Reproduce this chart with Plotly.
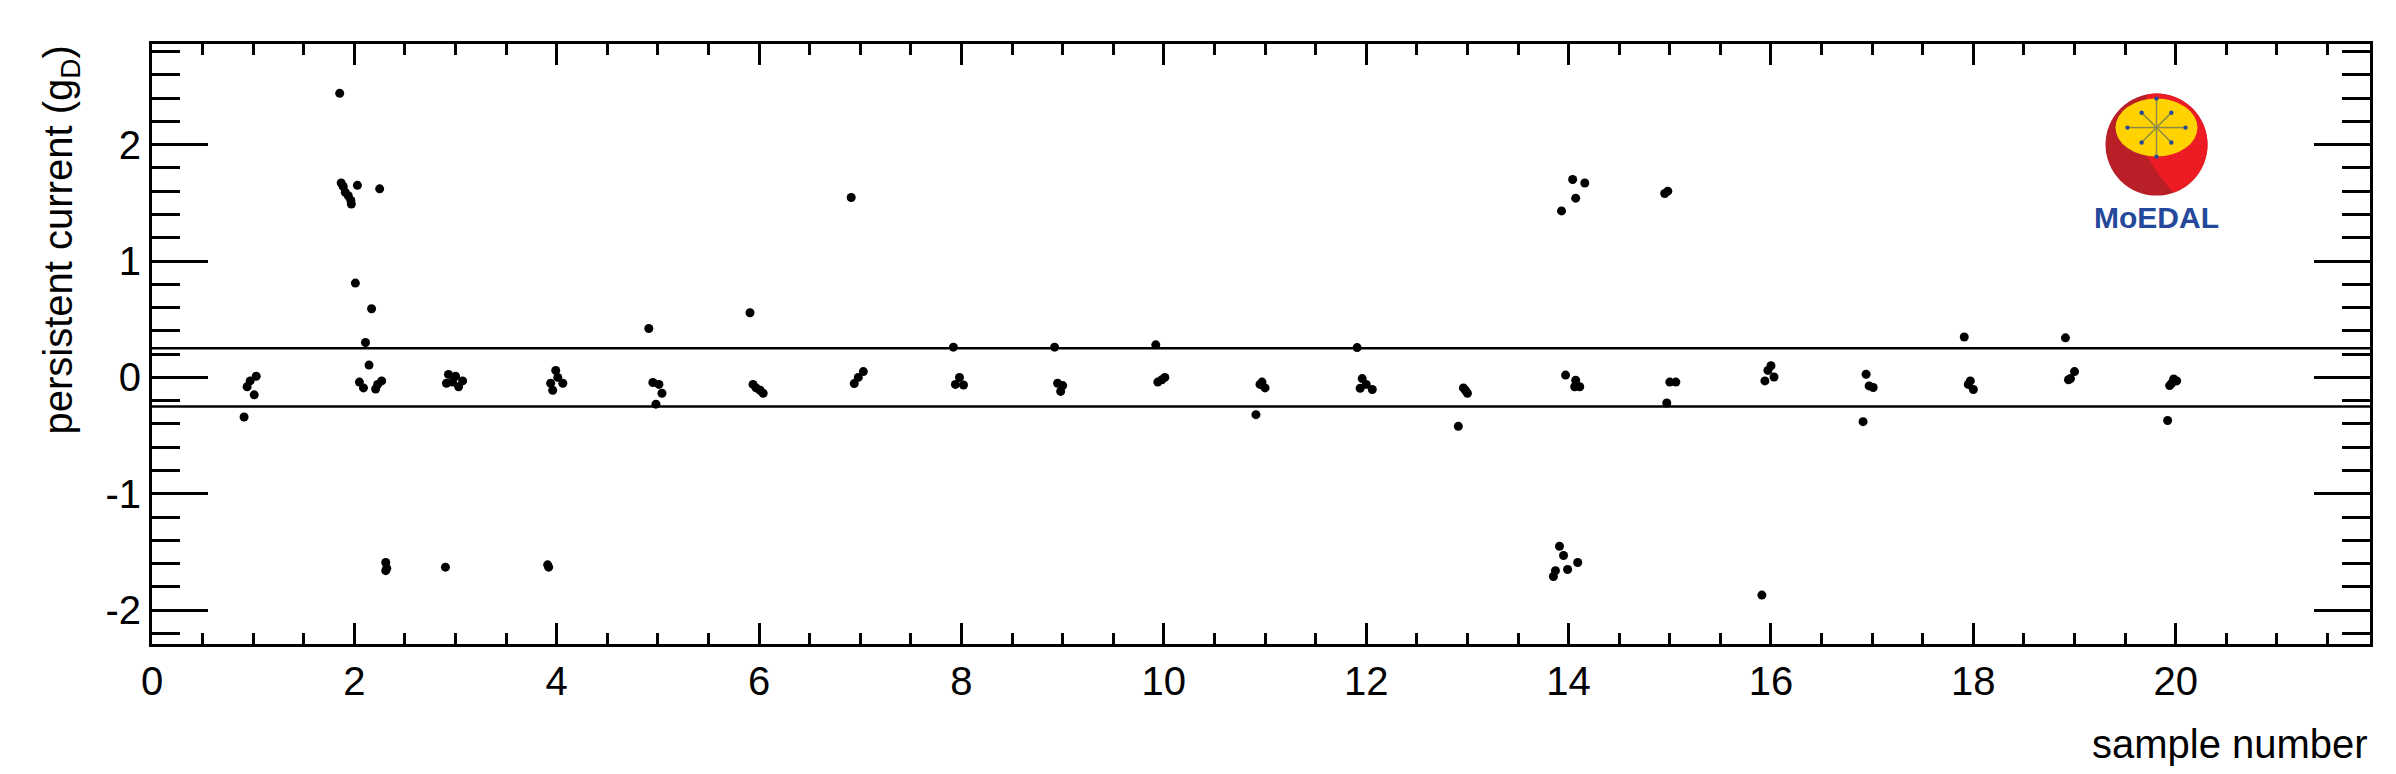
import numpy as np
import plotly.graph_objects as go

# ---------------- data ----------------
sample_x = [
    1.03, 0.97, 0.94, 1.01, 0.91,
    1.855, 1.87, 1.89, 1.91, 1.94, 1.965, 1.97, 2.03, 2.25, 2.01, 2.17, 2.11,
    2.145, 2.05, 2.09, 2.21, 2.23, 2.27, 2.31, 2.31, 2.32,
    2.93, 3.00, 3.07, 2.91, 3.03, 2.97, 2.90,
    3.99, 4.01, 4.06, 3.94, 3.96, 3.91, 3.92,
    4.91, 4.95, 5.01, 5.04, 4.98,
    5.91, 5.94, 5.97, 6.01, 6.04,
    6.91, 6.94, 6.98, 7.03,
    7.92, 7.98, 7.94, 8.02,
    8.92, 8.95, 9.00, 8.98,
    9.92, 9.94, 9.98, 10.01,
    10.97, 10.95, 11.00, 10.91,
    11.91, 11.96, 11.94, 12.00, 12.06,
    12.96, 12.98, 13.00, 12.91,
    13.97, 14.07, 14.06, 14.11, 14.04, 14.16, 14.07, 13.93,
    13.91, 13.95, 13.87, 13.85, 13.99, 14.09,
    14.95, 14.98, 15.00, 15.06, 14.97,
    16.00, 15.97, 16.03, 15.94, 15.91,
    16.94, 16.97, 17.01, 16.91,
    17.91, 17.97, 17.95, 18.00,
    18.91, 18.94, 18.96, 19.00,
    19.98, 20.01, 19.94, 19.96, 19.92,
]
current_y = [
    0.01, -0.03, -0.08, -0.15, -0.34,
    2.44, 1.67, 1.64, 1.59, 1.56, 1.52, 1.49, 1.65, 1.62, 0.81, 0.59, 0.30,
    0.106, -0.04, -0.09, -0.10, -0.06, -0.03, -1.59, -1.66, -1.64,
    0.026, 0.01, -0.03, -0.05, -0.08, -0.04, -1.63,
    0.06, 0.00, -0.05, -0.05, -0.11, -1.61, -1.63,
    0.42, -0.044, -0.06, -0.136, -0.23,
    0.555, -0.06, -0.09, -0.11, -0.136,
    1.545, -0.053, 0.00, 0.05,
    0.26, 0.00, -0.06, -0.065,
    0.26, -0.05, -0.07, -0.12,
    0.28, -0.04, -0.02, 0.00,
    -0.04, -0.06, -0.09, -0.32,
    0.256, -0.01, -0.093, -0.06, -0.104,
    -0.09, -0.11, -0.136, -0.42,
    0.02, -0.024, -0.08, -0.08, 1.70, 1.67, 1.54, 1.43,
    -1.45, -1.53, -1.66, -1.71, -1.65, -1.59,
    1.58, 1.60, -0.04, -0.04, -0.22,
    0.10, 0.06, 0.004, -0.03, -1.87,
    0.027, -0.073, -0.087, -0.38,
    0.347, -0.03, -0.06, -0.104,
    0.34, -0.02, -0.01, 0.05,
    -0.014, -0.03, -0.07, -0.05, -0.37,
]
threshold_levels = [0.25, -0.25]
x_range = [0.0, 21.92]
y_range = [-2.29, 2.864]
x_tick_vals = [0, 2, 4, 6, 8, 10, 12, 14, 16, 18, 20]
x_tick_text = ["0", "2", "4", "6", "8", "10", "12", "14", "16", "18", "20"]
y_tick_vals = [-2, -1, 0, 1, 2]
y_tick_text = ["-2", "-1", "0", "1", "2"]

# ---------------- figure ----------------
# page body has an 8px margin, so the figure is 16px smaller than the window
W, H = 2380, 758
L, R, T, B = 144, 18, 36, 122
FONT = "Liberation Sans, Arial, Helvetica, sans-serif"

fig = go.Figure()
fig.add_trace(go.Scatter(
    x=sample_x, y=current_y, mode="markers",
    marker=dict(color="black", size=9, line=dict(width=0)),
    showlegend=False, hoverinfo="x+y",
))

shapes = []
for lv in threshold_levels:
    shapes.append(dict(type="line", xref="paper", x0=0, x1=1, yref="y", y0=lv, y1=lv,
                       line=dict(color="black", width=2.5), layer="above"))

# ---------- MoEDAL logo (decoration) ----------
lx, ly = 19.81, 2.0

def circ_path(cx, cy, rx, ry, a0, a1, n=60):
    t = np.linspace(a0, a1, n)
    return [(cx + rx * np.cos(tt), cy + ry * np.sin(tt)) for tt in t]

def to_path(pts, close=True):
    s = "M " + " L ".join(f"{px:.2f},{py:.2f}" for px, py in pts)
    return s + (" Z" if close else "")

pix = dict(xref="x", yref="y", xsizemode="pixel", ysizemode="pixel",
           xanchor=lx, yanchor=ly, layer="above")
# dark red full disc
shapes.append(dict(type="circle", x0=-51, x1=51, y0=-51, y1=51,
                   fillcolor="#b81f26", line=dict(width=0), **pix))
# bright red right part
arc = circ_path(0, 0, 51, 51, np.deg2rad(100), np.deg2rad(-70))
inner = [(14, -45), (2, -30), (-8, -14), (-20, 0)]
shapes.append(dict(type="path", path=to_path(arc + inner),
                   fillcolor="#ed1c24", line=dict(width=0), **pix))
# yellow top ellipse
shapes.append(dict(type="circle", x0=-41, x1=41, y0=-12, y1=46,
                   fillcolor="#ffd200", line=dict(width=0), **pix))
# arrows (star)
acx, acy = 0, 17
for ang in range(0, 360, 45):
    rr = 27 if ang % 90 == 0 else 19
    a = np.deg2rad(ang)
    ex, ey = acx + rr * np.cos(a), acy + rr * np.sin(a)
    shapes.append(dict(type="line", x0=acx, y0=acy, x1=ex, y1=ey,
                       line=dict(color="#8c8a4a", width=1.5), **pix))
    hx, hy = acx + (rr + 2) * np.cos(a), acy + (rr + 2) * np.sin(a)
    shapes.append(dict(type="circle", x0=hx - 2.2, x1=hx + 2.2, y0=hy - 2.2, y1=hy + 2.2,
                       fillcolor="#24489a", line=dict(width=0), **pix))

annotations = [
    dict(text="MoEDAL", xref="x", yref="y", x=lx, y=1.37, showarrow=False,
         font=dict(family=FONT, size=30, color="#24489a", weight="bold"),
         xanchor="center", yanchor="middle"),
    dict(text="persistent current (g<sub>D</sub>)", xref="paper", yref="paper",
         x=(52 - L) / (W - L - R), y=1.0, xanchor="center", yanchor="top",
         textangle=-90, showarrow=False, font=dict(family=FONT, size=40, color="black")),
    dict(text="sample number", xref="paper", yref="paper",
         x=1.0, y=-(736 - (H - B)) / (H - T - B), xanchor="right", yanchor="middle",
         showarrow=False, font=dict(family=FONT, size=40, color="black")),
]

axis_common = dict(showgrid=False, zeroline=False, showline=True, linecolor="black",
                   linewidth=3, mirror="allticks", ticks="inside", tickcolor="black",
                   tickwidth=2.5, tickfont=dict(family=FONT, size=40, color="black"))

fig.update_layout(
    width=W, height=H,
    margin=dict(l=L, r=R, t=T, b=B, pad=0),
    paper_bgcolor="white", plot_bgcolor="white",
    xaxis=dict(range=x_range, tickvals=x_tick_vals, ticktext=x_tick_text,
               ticklen=21, minor=dict(dtick=0.5, ticklen=11, ticks="inside",
                                      tickcolor="black", tickwidth=2.5, showgrid=False),
               **axis_common),
    yaxis=dict(range=y_range, tickvals=y_tick_vals, ticktext=y_tick_text,
               ticklen=56, minor=dict(dtick=0.2, ticklen=28, ticks="inside",
                                      tickcolor="black", tickwidth=2.5, showgrid=False),
               **axis_common),
    shapes=shapes,
    annotations=annotations,
    font=dict(family=FONT, color="black"),
)

fig.write_html("out.html")
